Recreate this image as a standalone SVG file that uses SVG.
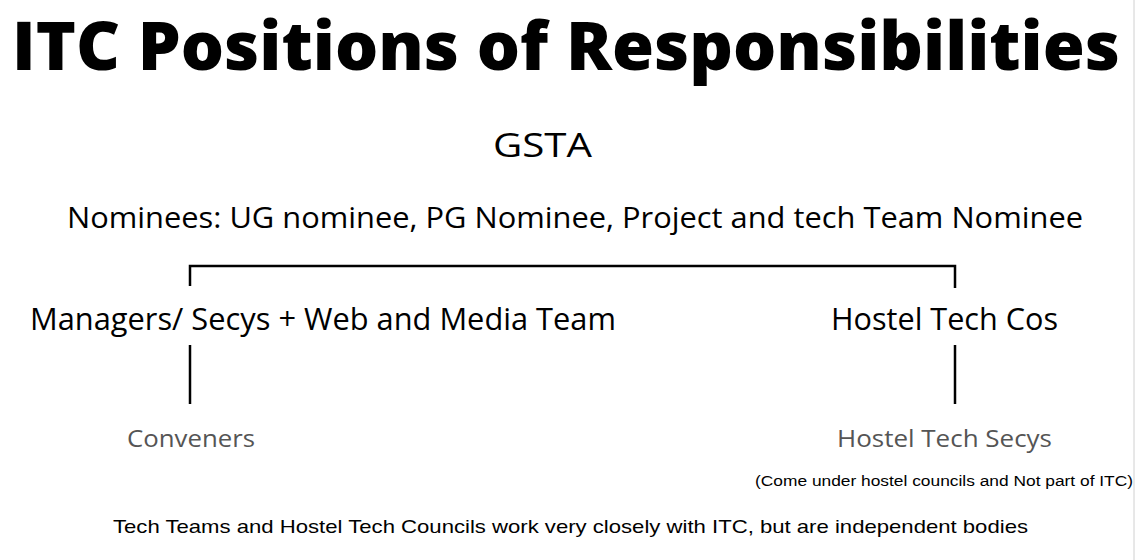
<svg xmlns="http://www.w3.org/2000/svg" width="1135" height="560" viewBox="0 0 1135 560">
<style>
.os{font-family:"Open Sans","Noto Sans",sans-serif;fill:#000}
.title{font-weight:800;font-size:67px}
.lvl{font-size:31px}
.sub{font-size:23px;fill:#555}
.ls{font-family:"Liberation Sans",Arial,sans-serif;fill:#000}
.conn{stroke:#000;stroke-width:2.5;fill:none}
</style>
<rect width="1135" height="560" fill="#fff"/>
<line x1="1134" y1="0" x2="1134" y2="560" stroke="#d0d0d0" stroke-width="1"/>
<text class="os title" x="12" y="70" textLength="1108" lengthAdjust="spacingAndGlyphs">ITC Positions of Responsibilities</text>
<g id="gsta"><text class="os" x="493" y="157" font-size="33" textLength="99" lengthAdjust="spacingAndGlyphs">GSTA</text></g>
<g id="nominees"><text class="os" x="67" y="228" font-size="30" textLength="1016" lengthAdjust="spacingAndGlyphs">Nominees: UG nominee, PG Nominee, Project and tech Team Nominee</text></g>
<g id="managers"><text class="os lvl" x="30" y="330" textLength="586" lengthAdjust="spacingAndGlyphs">Managers/ Secys + Web and Media Team</text></g>
<g id="hostel-cos"><text class="os lvl" x="831" y="330" textLength="227" lengthAdjust="spacingAndGlyphs">Hostel Tech Cos</text></g>
<g id="conveners"><text class="os sub" x="127" y="447" textLength="128" lengthAdjust="spacingAndGlyphs">Conveners</text></g>
<g id="hostel-secys"><text class="os sub" x="837" y="447" textLength="215" lengthAdjust="spacingAndGlyphs">Hostel Tech Secys</text></g>
<g id="connectors">
<path class="conn" d="M190,286 V266 H955 V288"/>
<line class="conn" x1="190" y1="345" x2="190" y2="404"/>
<line class="conn" x1="955" y1="345" x2="955" y2="404"/>
</g>
<g id="notes">
<text class="ls" x="755" y="486" font-size="14" textLength="378" lengthAdjust="spacingAndGlyphs">(Come under hostel councils and Not part of ITC)</text>
<text class="ls" x="113" y="533" font-size="19" textLength="915" lengthAdjust="spacingAndGlyphs">Tech Teams and Hostel Tech Councils work very closely with ITC, but are independent bodies</text>
</g>
</svg>
